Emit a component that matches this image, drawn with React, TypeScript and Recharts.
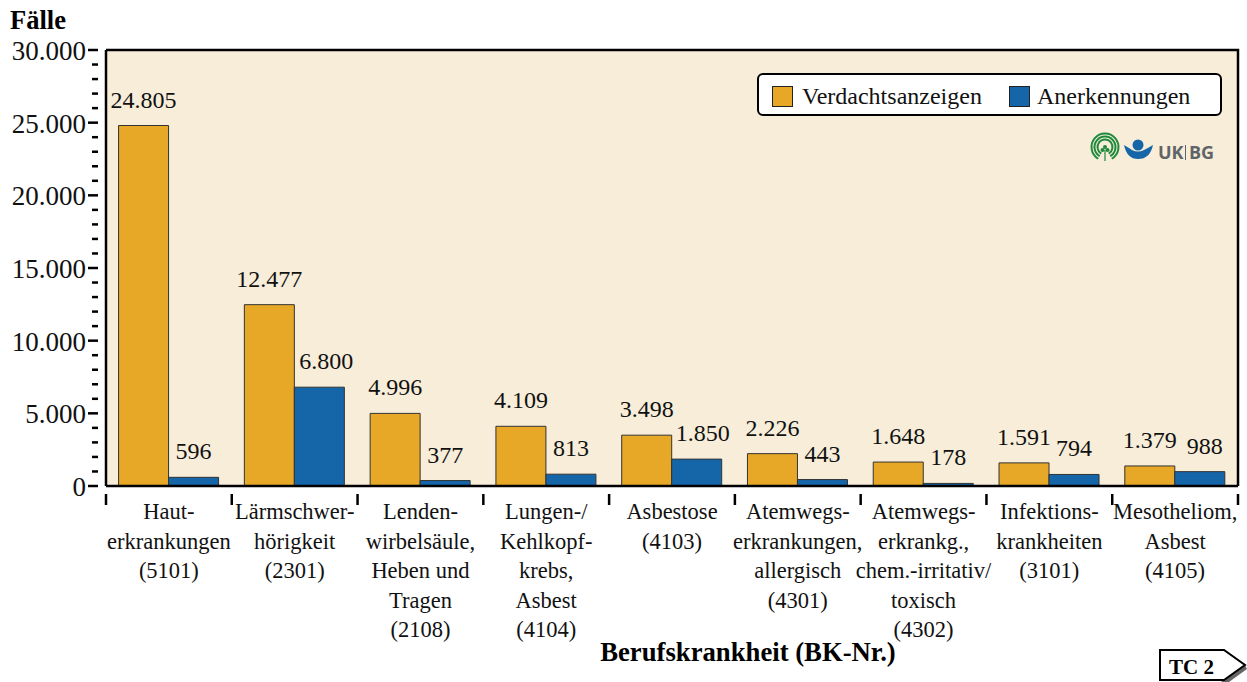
import { BarChart, Bar, XAxis, YAxis, CartesianGrid, Legend, LabelList, usePlotArea } from "recharts"

const categories = [
  "Haut-\nerkrankungen\n(5101)",
  "Lärmschwer-\nhörigkeit\n(2301)",
  "Lenden-\nwirbelsäule,\nHeben und\nTragen\n(2108)",
  "Lungen-/\nKehlkopf-\nkrebs,\nAsbest\n(4104)",
  "Asbestose\n(4103)",
  "Atemwegs-\nerkrankungen,\nallergisch\n(4301)",
  "Atemwegs-\nerkrankg.,\nchem.-irritativ/\ntoxisch\n(4302)",
  "Infektions-\nkrankheiten\n(3101)",
  "Mesotheliom,\nAsbest\n(4105)",
]
const verdachtsanzeigen = [24805, 12477, 4996, 4109, 3498, 2226, 1648, 1591, 1379]
const anerkennungen = [596, 6800, 377, 813, 1850, 443, 178, 794, 988]
const yTicks = Array.from({ length: 31 }, (_, i) => i * 1000)

const chartData = categories.map((name, i) => ({
  name,
  verdacht: verdachtsanzeigen[i],
  anerkannt: anerkennungen[i],
}))

const ORANGE = "#e6a826"
const BLUE = "#1565a9"
const SERIF = '"Liberation Serif", "Times New Roman", serif'
const fmt = (v: number) => String(v).replace(/\B(?=(\d{3})+$)/g, ".")

function YTick({ x, y, payload }: any) {
  const major = payload.value % 5000 === 0
  return (
    <g>
      <line x1={x} x2={x - (major ? 10 : 6)} y1={y} y2={y} stroke="#000" strokeWidth={2.5} />
      {major && (
        <text x={86} y={y + 10} textAnchor="end" fontFamily={SERIF} fontSize={27} fill="#111">
          {fmt(payload.value)}
        </text>
      )}
    </g>
  )
}

function XTick({ x, y, payload, index }: any) {
  const band = 1132 / categories.length
  const lines = String(payload.value).split("\n")
  return (
    <g>
      <line x1={x - band / 2} x2={x - band / 2} y1={y} y2={y + 11} stroke="#000" strokeWidth={2.5} />
      {index === categories.length - 1 && (
        <line x1={x + band / 2} x2={x + band / 2} y1={y} y2={y + 11} stroke="#000" strokeWidth={2.5} />
      )}
      {lines.map((l, i) => (
        <text key={i} x={x} y={y + 34 + i * 29.5 - 9} textAnchor="middle" fontFamily={SERIF} fontSize={22.5} fill="#111">
          {l}
        </text>
      ))}
    </g>
  )
}

// a few labels sit a little right of their bars in the original
const labelNudge: Record<number, number> = { 6800: 7, 1850: 6, 988: 5 }

function ValueLabel({ x, y, width, value }: any) {
  return (
    <text
      x={x + width / 2 + (labelNudge[value] ?? 0)}
      y={y - 18}
      textAnchor="middle"
      fontFamily={SERIF}
      fontSize={24}
      fill="#111"
    >
      {fmt(value)}
    </text>
  )
}

function PlotFrame() {
  const plot = usePlotArea()
  if (!plot) return null
  const { x, y, width, height } = plot
  return (
    <path d={`M${x} ${y}H${x + width}V${y + height}`} fill="none" stroke="#000" strokeWidth={2.5} />
  )
}

function LegendBox({ payload }: any) {
  const offsets = [15, 252]
  return (
    <div
      style={{
        position: "relative",
        width: 465,
        height: 43,
        boxSizing: "border-box",
        background: "#fff",
        border: "2px solid #000",
        borderRadius: 6,
        fontFamily: SERIF,
        fontSize: 24,
        color: "#111",
      }}
    >
      {(payload ?? []).map((p: any, i: number) => (
        <div key={p.value} style={{ position: "absolute", left: offsets[i] - 2, top: 2, height: 39, display: "flex", alignItems: "center" }}>
          <span style={{ width: 19, height: 19, background: p.color, border: "1px solid #222", display: "inline-block", marginRight: i === 0 ? 9 : 7 }} />
          {p.value}
        </div>
      ))}
    </div>
  )
}

function Logo() {
  return (
    <g>
      {[13.5, 10.5, 7.5].map((r) => (
        <path
          key={r}
          d={`M${1105 - r * 0.5} ${147 + r * 0.87}A${r} ${r} 0 1 1 ${1105 + r * 0.5} ${147 + r * 0.87}`}
          fill="none"
          stroke="#1f8a3c"
          strokeWidth={2}
        />
      ))}
      <circle cx={1105} cy={147} r={2} fill="#1f8a3c" />
      <circle cx={1102.5} cy={150} r={2} fill="#1f8a3c" />
      <circle cx={1107.5} cy={150} r={2} fill="#1f8a3c" />
      <rect x={1104.4} y={150} width={1.2} height={11} fill="#1f8a3c" />
      <circle cx={1138} cy={145} r={5.5} fill="#1565a9" />
      <path d="M1124 145Q1129 148 1132 150Q1138 153 1144 150Q1148 148 1153 145Q1150 159 1138 159Q1127 159 1124 145Z" fill="#1565a9" />
      <text x={1158} y={159} fontFamily='"Open Sans", sans-serif' fontWeight={700} fontSize={18} fill="#5f6468">
        UK
      </text>
      <rect x={1185} y={145} width={1} height={15} fill="#5f6468" />
      <text x={1189} y={159} fontFamily='"Open Sans", sans-serif' fontWeight={700} fontSize={18} fill="#5f6468">
        BG
      </text>
    </g>
  )
}

function Annotations() {
  return (
    <g fontFamily={SERIF} fontWeight={700} fill="#000">
      <text x={10} y={29} fontSize={26.5}>Fälle</text>
      <text x={748} y={661} fontSize={26.7} textAnchor="middle">Berufskrankheit (BK-Nr.)</text>
      <path d="M1244 663L1247 669L1229 682H1221Z" fill="#666" />
      <path d="M1160 650H1224L1245 665L1224 680H1160Z" fill="#fff" stroke="#000" strokeWidth={2} />
      <text x={1169} y={674} fontSize={21}>TC 2</text>
    </g>
  )
}

export default function App() {
  return (
    <div style={{ position: "absolute", left: 0, top: 0, width: 1247, height: 682 }}>
      <BarChart
        width={1247}
        height={682}
        data={chartData}
        margin={{ top: 50, right: 9, bottom: 0, left: 0 }}
        barGap={0}
        barCategoryGap="10%"
      >
        <CartesianGrid fill="#f7edd9" horizontal={false} vertical={false} />
        <Legend
          layout="vertical"
          align="center"
          verticalAlign="middle"
          itemSorter={null}
          content={<LegendBox />}
          wrapperStyle={{ left: 757, top: 73, width: 465, height: 43, bottom: "auto", right: "auto" }}
        />
        <Bar dataKey="verdacht" name="Verdachtsanzeigen" fill={ORANGE} stroke="#333" strokeWidth={1} isAnimationActive={false}>
          <LabelList dataKey="verdacht" content={<ValueLabel />} />
        </Bar>
        <Bar dataKey="anerkannt" name="Anerkennungen" fill={BLUE} stroke="#333" strokeWidth={1} isAnimationActive={false}>
          <LabelList dataKey="anerkannt" content={<ValueLabel />} />
        </Bar>
        <XAxis
          dataKey="name"
          height={196}
          interval={0}
          axisLine={{ stroke: "#000", strokeWidth: 2.5 }}
          tickLine={false}
          tick={<XTick />}
        />
        <YAxis
          width={106}
          domain={[0, 30000]}
          ticks={yTicks}
          interval={0}
          axisLine={{ stroke: "#000", strokeWidth: 2.5 }}
          tickLine={false}
          tick={<YTick />}
        />
        <PlotFrame />
        <Logo />
        <Annotations />
      </BarChart>
    </div>
  )
}
